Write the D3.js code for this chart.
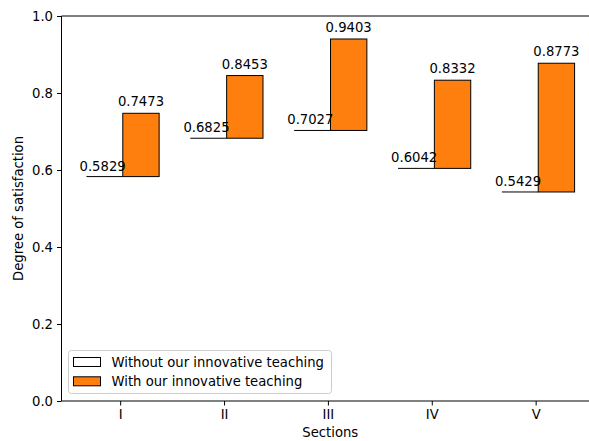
<!DOCTYPE html>
<html>
<head>
<meta charset="utf-8">
<script src="https://cdn.jsdelivr.net/npm/d3@7/dist/d3.min.js"></script>
<style>
  html, body { margin: 0; padding: 0; background: #fff; }
  svg { display: block; font-family: "DejaVu Sans", sans-serif; }
</style>
</head>
<body>
<svg id="chart" width="589" height="441"></svg>
<script>
// Satisfaction per section, before and after the innovative teaching
const sections = ["I", "II", "III", "IV", "V"];
const withoutTeaching = [0.5829, 0.6825, 0.7027, 0.6042, 0.5429];
const withTeaching = [0.7473, 0.8453, 0.9403, 0.8332, 0.8773];
const yTicks = [0, 0.2, 0.4, 0.6, 0.8, 1.0];
const legendLabels = ["Without our innovative teaching", "With our innovative teaching"];

const svg = d3.select("#chart");
const fontSize = 13.2;
const plot = { left: 61.5, right: 599, top: 16, bottom: 401 };

// x is a continuous position scale with sections at integer positions
const x = d3.scaleLinear().domain([-0.565, 4.61]).range([plot.left, plot.right]);
const y = d3.scaleLinear().domain([0, 1]).range([plot.bottom, plot.top]);
const barW = 0.35;
const offWithout = -0.15, offWith = 0.2;

const g = svg.append("g");

// baseline level of each section: a zero-height bar drawn at its value
g.selectAll("line.without")
  .data(withoutTeaching)
  .join("line")
  .attr("class", "without")
  .attr("x1", (d, i) => x(i + offWithout - barW / 2))
  .attr("x2", (d, i) => x(i + offWithout + barW / 2))
  .attr("y1", d => y(d))
  .attr("y2", d => y(d))
  .attr("stroke", "#000")
  .attr("stroke-width", 1);

// gain bars from the baseline up to the improved value
g.selectAll("rect.with")
  .data(withTeaching)
  .join("rect")
  .attr("class", "with")
  .attr("x", (d, i) => x(i + offWith - barW / 2))
  .attr("width", x(barW) - x(0))
  .attr("y", d => y(d))
  .attr("height", (d, i) => y(withoutTeaching[i]) - y(d))
  .attr("fill", "#ff7f0e")
  .attr("stroke", "#000")
  .attr("stroke-width", 1);

// value labels
g.selectAll("text.lw")
  .data(withoutTeaching)
  .join("text")
  .attr("x", (d, i) => x(i + offWithout) - 2)
  .attr("y", d => y(d) - 6)
  .attr("text-anchor", "middle")
  .attr("font-size", fontSize)
  .attr("fill", "#000")
  .text(d => d.toFixed(4));

g.selectAll("text.lt")
  .data(withTeaching)
  .join("text")
  .attr("x", (d, i) => x(i + offWith))
  .attr("y", d => y(d) - 7)
  .attr("text-anchor", "middle")
  .attr("font-size", fontSize)
  .attr("fill", "#000")
  .text(d => d.toFixed(4));

// axes
const yAxis = d3.axisLeft(y).tickValues(yTicks).tickFormat(d3.format(".1f")).tickSize(4.5).tickPadding(4);
const yg = svg.append("g").attr("transform", `translate(${plot.left},0)`).call(yAxis);
const xAxis = d3.axisBottom(x).tickValues(d3.range(sections.length)).tickFormat(i => sections[i]).tickSize(4.5).tickPadding(4.5);
const xg = svg.append("g").attr("transform", `translate(0,${plot.bottom})`).call(xAxis);
[yg, xg].forEach(a => {
  a.select(".domain").remove();
  a.selectAll(".tick line").attr("stroke", "#000").attr("stroke-width", 1);
  a.selectAll(".tick text").attr("font-size", fontSize).attr("fill", "#000")
    .attr("font-family", "DejaVu Sans");
});

// spines
const spines = svg.append("g").attr("stroke", "#000").attr("stroke-width", 1).attr("fill", "none");
spines.append("line").attr("x1", plot.left).attr("x2", plot.left).attr("y1", plot.top).attr("y2", plot.bottom);
spines.append("line").attr("x1", plot.left).attr("x2", plot.right).attr("y1", plot.top).attr("y2", plot.top);
spines.append("line").attr("x1", plot.left).attr("x2", plot.right).attr("y1", plot.bottom).attr("y2", plot.bottom);
spines.append("line").attr("x1", plot.right).attr("x2", plot.right).attr("y1", plot.top).attr("y2", plot.bottom);

// axis titles
svg.append("text")
  .attr("x", (plot.left + plot.right) / 2)
  .attr("y", 437)
  .attr("text-anchor", "middle")
  .attr("font-size", fontSize)
  .text("Sections");
svg.append("text")
  .attr("transform", `translate(23,${(plot.top + plot.bottom) / 2}) rotate(-90)`)
  .attr("text-anchor", "middle")
  .attr("font-size", fontSize)
  .text("Degree of satisfaction");

// legend
const lg = svg.append("g").attr("transform", "translate(68.5,350.5)");
lg.append("rect")
  .attr("width", 263).attr("height", 43).attr("rx", 3)
  .attr("fill", "#fff").attr("fill-opacity", 0.8)
  .attr("stroke", "#ccc").attr("stroke-width", 1);
const legendFills = ["#ffffff", "#ff7f0e"];
legendLabels.forEach((label, i) => {
  const row = lg.append("g").attr("transform", `translate(0,${11.5 + i * 19.3})`);
  row.append("rect")
    .attr("x", 5).attr("y", -4.5).attr("width", 27).attr("height", 9)
    .attr("fill", legendFills[i]).attr("stroke", "#000").attr("stroke-width", 1);
  row.append("text")
    .attr("x", 43).attr("y", 4.6)
    .attr("font-size", fontSize)
    .text(label);
});
</script>
</body>
</html>
